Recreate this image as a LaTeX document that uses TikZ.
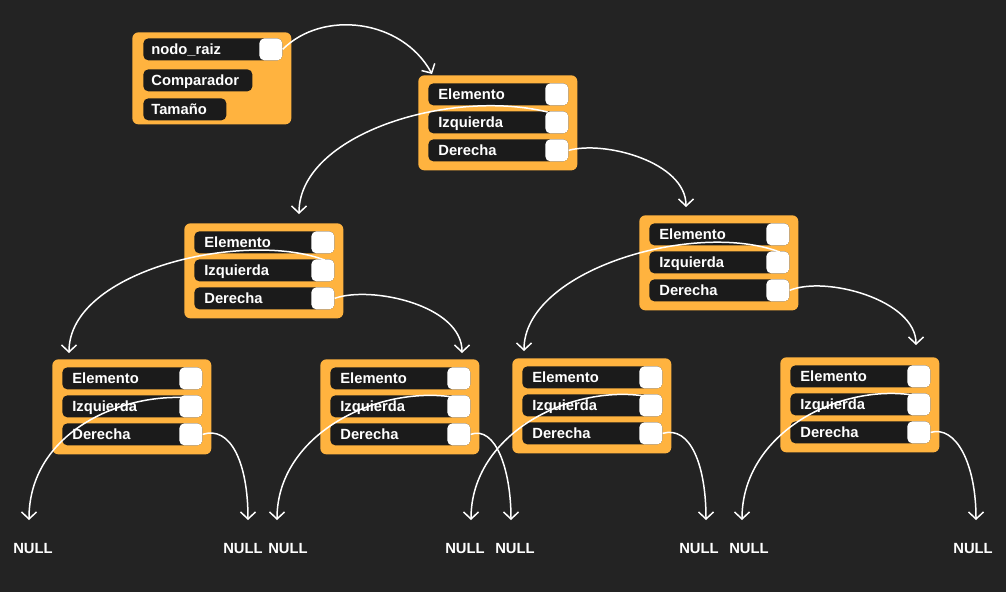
\documentclass[tikz,border=0pt]{standalone}
\usepackage{fontspec}
\setmainfont{Liberation Sans}
\usetikzlibrary{calc, arrows.meta}

\begin{document}
\begin{tikzpicture}[x=0.02cm, y=-0.02cm,
    box/.style={fill=boxColour, rounded corners=0.12cm, minimum width=3.18cm, minimum height=1.9cm, inner sep=0pt, anchor=north west},
    field/.style={fill=barColour, text=white, rounded corners=0.1cm, text width=#1, inner xsep=0.2cm, inner ysep=0pt, minimum height=0.44cm, text height=0.2cm, text depth=0pt, align=left, anchor=north west, font=\fontsize{8.4pt}{10pt}\selectfont\bfseries},
    field/.default=2.4cm,
    slot/.style={fill=white, rounded corners=0.1cm, minimum width=0.46cm, minimum height=0.44cm, inner sep=0pt, anchor=north east},
    link/.style={draw=white, line width=0.85pt, -{Straight Barb[length=0.14cm, width=0.3cm]}},
    nulltext/.style={text=white, inner sep=0pt, font=\fontsize{8.4pt}{10pt}\selectfont\bfseries}
]
    % Define colours
    \definecolor{bgColour}{HTML}{232323}
    \definecolor{boxColour}{HTML}{FFB33F}
    \definecolor{barColour}{HTML}{1B1B1B}

    % Draw background
    \fill[bgColour] (0,0) rectangle (1006,592);
    \useasboundingbox (0,0) rectangle (1006,592);

    % Draw the tree header
    \node[box, minimum height=1.84cm] (root) at (132,32) {};
    \node[field=2.46cm, inner xsep=0.16cm] (root-f) at (143,38) {nodo\_raiz};
    \node[field=1.86cm, inner xsep=0.16cm] (root-c) at (143,69) {Comparador};
    \node[field=1.34cm, inner xsep=0.16cm] (root-t) at (143,98) {Tamaño};

    % Draw the tree nodes
    \foreach \n/\x/\y in {n1/418/75, n2/184/223, n3/639/215, n4/52/359, n5/320/359, n6/512/358, n7/780/357} {
        \node[box] (\n) at (\x,\y) {};
        \node[field] (\n-e) at (\x+10,\y+8) {Elemento};
        \node[field] (\n-i) at (\x+10,\y+36) {Izquierda};
        \node[field] (\n-d) at (\x+10,\y+64) {Derecha};
    }

    % Arrow targets on the child nodes
    \coordinate (n1-top) at ($(n1.north west)+(14,-1)$);
    \coordinate (n2-top) at ($(n2.north west)+(115,-9)$);
    \coordinate (n3-top) at ($(n3.north west)+(47,-8)$);
    \coordinate (n4-top) at ($(n4.north west)+(17,-6)$);
    \coordinate (n5-top) at ($(n5.north west)+(142,-6)$);
    \coordinate (n6-top) at ($(n6.north west)+(12,-7)$);
    \coordinate (n7-top) at ($(n7.north west)+(136,-12)$);

    % Label the empty children
    \foreach \k/\x/\tx in {1/29/33, 2/248/243, 3/277/288, 4/471/465, 5/511/515, 6/706/699, 7/742/749, 8/976/973} {
        \coordinate (null\k) at (\x,520);
        \node[nulltext] (null\k-label) at (\tx,548) {NULL};
    }

    % Draw the links
    \draw[link] (root-f.east) .. controls +(40,-40) and +(-30,-55) .. (n1-top);
    \draw[link] ($(n1-i.north east)+(-21,1)$) .. controls +(-100,-24) and +(0,-79) .. (n2-top);
    \draw[link] (n1-d.east) .. controls +(36,-10) and +(0,-45) .. (n3-top);
    \draw[link] ($(n2-i.north east)+(-10,1)$) .. controls +(-80,-30) and +(0,-83) .. (n4-top);
    \draw[link] (n2-d.east) .. controls +(36,-13) and +(0,-48) .. (n5-top);
    \draw[link] ($(n3-i.north east)+(-10,1)$) .. controls +(-85,-32) and +(0,-81) .. (n6-top);
    \draw[link] (n3-d.east) .. controls +(36,-15) and +(0,-45) .. (n7-top);
    \draw[link] ($(n4-i.north east)+(-12,3)$) .. controls +(-70,-6) and +(0,-87) .. (null1);
    \draw[link] (n4-d.east) .. controls +(28,-9) and +(0,-57) .. (null2);
    \draw[link] ($(n5-i.north east)+(-12,3)$) .. controls +(-78,-15) and +(0,-87) .. (null3);
    \draw[link] (n5-d.east) .. controls +(25,-9) and +(0,-50) .. (null5);
    \draw[link] ($(n6-i.north east)+(-12,3)$) .. controls +(-78,-15) and +(0,-87) .. (null4);
    \draw[link] (n6-d.east) .. controls +(28,-8) and +(0,-54) .. (null6);
    \draw[link] ($(n7-i.north east)+(-12,3)$) .. controls +(-78,-15) and +(0,-87) .. (null7);
    \draw[link] (n7-d.east) .. controls +(25,-7) and +(0,-57) .. (null8);

    % Draw the pointer slots
    \node[slot] (root-sq) at (root-f.north east) {};
    \foreach \n in {n1,n2,n3,n4,n5,n6,n7} {
        \node[slot] (\n-esq) at (\n-e.north east) {};
        \node[slot] (\n-isq) at (\n-i.north east) {};
        \node[slot] (\n-dsq) at (\n-d.north east) {};
    }
\end{tikzpicture}
\end{document}
